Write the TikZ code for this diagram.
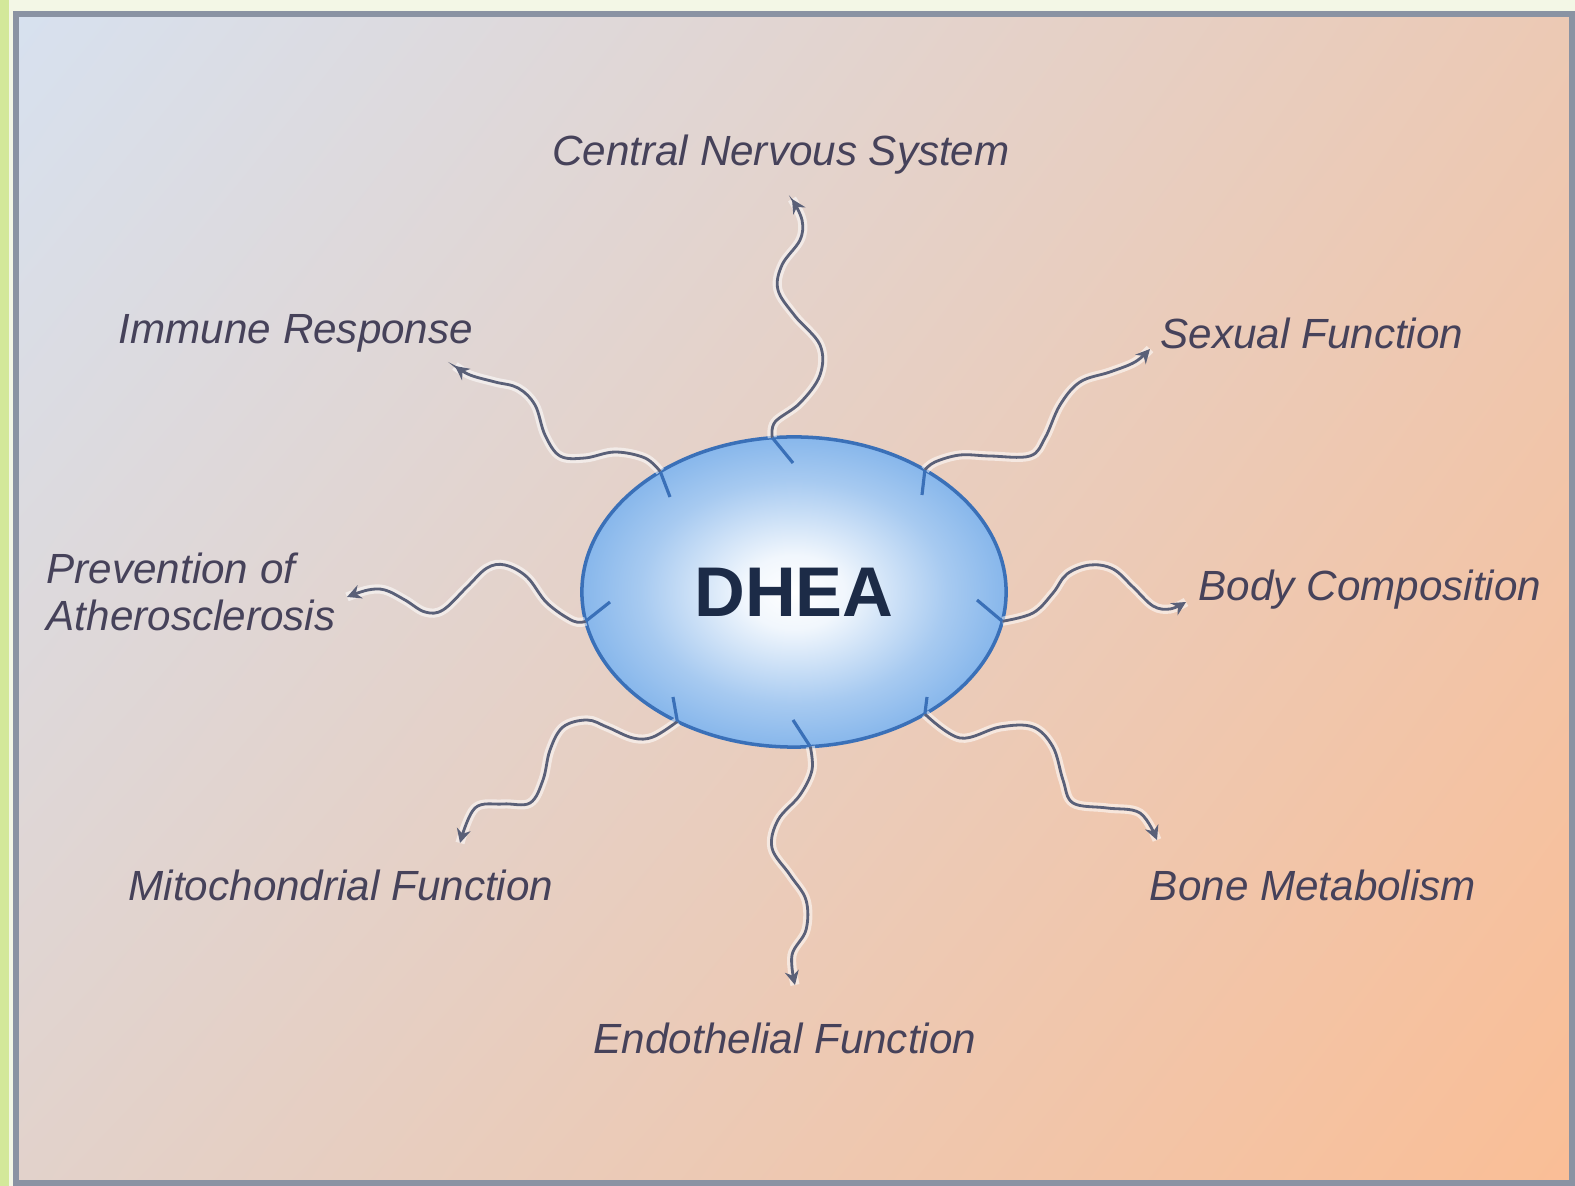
\documentclass[tikz,border=0pt]{standalone}
\usepackage{fontspec}
\setmainfont{Liberation Sans}
\usetikzlibrary{arrows.meta,shapes.geometric,shadings}
\definecolor{paper}{HTML}{F3F7E6}
\definecolor{lime}{HTML}{D3E89A}
\definecolor{framegray}{HTML}{8A93A3}
\definecolor{inkgray}{HTML}{5A6078}
\definecolor{labelink}{HTML}{46425A}
\definecolor{dheablue}{HTML}{4F95E2}
\definecolor{dheaedge}{HTML}{3A70B8}
\definecolor{dheaink}{HTML}{1C2B47}
\definecolor{bgtl}{HTML}{D7E1EF}
\definecolor{bgtr}{HTML}{ECC9B4}
\definecolor{bgbl}{HTML}{E2D2CB}
\definecolor{bgbr}{HTML}{FABE96}
\pgfdeclareradialshading{dheashade}{\pgfpoint{0bp}{0bp}}{color(0bp)=(white); color(6bp)=(white!92!dheablue); color(18bp)=(white!50!dheablue); color(32bp)=(white!14!dheablue); color(44bp)=(dheablue); color(50bp)=(dheablue!88!black)}

\begin{document}
\begin{tikzpicture}[x=0.01cm,y=-0.01cm,
  lbl/.style={font=\fontsize{12}{13.4}\selectfont\itshape, text=labelink, inner sep=0},
  wave/.style={inkgray, line width=0.8pt, -{Stealth[length=4pt,width=4pt]},
    preaction={draw=white, line width=2.6pt, opacity=0.55, arrows=-}},
  tick/.style={dheaedge, line width=0.9pt}]
  \useasboundingbox (0,0) rectangle (1575,1186);
  \fill[paper] (0,0) rectangle (1575,1186);
  \fill[lime] (0,0) rectangle (9,1186);
  \shade[upper left=bgtl, upper right=bgtr, lower left=bgbl, lower right=bgbr]
    (16,14) rectangle (1572,1183);
  \draw[framegray, line width=1.7pt] (16,14) rectangle (1572,1183);

  \node[ellipse, shade, shading=dheashade, draw=dheaedge, line width=1pt, minimum width=4.24cm,
    minimum height=3.1cm, inner sep=0, outer sep=0, font=\fontsize{20}{24}\selectfont\bfseries,
    text=dheaink] (dhea) at (794,592) {DHEA};

  \node[lbl] (cns)    at (781,155)  {Central Nervous System};
  \node[lbl] (immune) at (296,333)  {Immune Response};
  \node[lbl] (sexual) at (1312,333) {Sexual Function};
  \node[lbl, align=left, anchor=west] (athero) at (46,592) {Prevention of\\Atherosclerosis};
  \node[lbl] (body)   at (1370,590) {Body Composition};
  \node[lbl] (mito)   at (341,885)  {Mitochondrial Function};
  \node[lbl] (bone)   at (1313,885) {Bone Metabolism};
  \node[lbl] (endo)   at (785,1038) {Endothelial Function};

  \coordinate (cns-end)    at (792,199);
  \coordinate (immune-end) at (455,366);
  \coordinate (sexual-end) at (1150,349);
  \coordinate (athero-end) at (347,597);
  \coordinate (body-end)   at (1186,602);
  \coordinate (mito-end)   at (460,843);
  \coordinate (bone-end)   at (1157,840);
  \coordinate (endo-end)   at (795,985);

  \draw[wave] plot[smooth,tension=0.6] coordinates {(dhea.98) (775,422) (800,403) (820,375) (820,345) (795,316) (778,290) (782,265) (800,240) (802,220) (cns-end)};
  \draw[wave] plot[smooth,tension=0.6] coordinates {(dhea.138) (645,458) (615,452) (585,458) (560,456) (545,435) (535,405) (518,388) (495,382) (470,375) (immune-end)};
  \draw[wave] plot[smooth,tension=0.6] coordinates {(dhea.43) (935,462) (960,455) (990,456) (1030,456) (1045,438) (1060,405) (1080,382) (1110,372) (1135,362) (sexual-end)};
  \draw[wave] plot[smooth,tension=0.6] coordinates {(dhea.188) (573,621) (547,603) (527,577) (505,565) (487,568) (467,587) (443,610) (425,612) (405,600) (385,590) (368,590) (athero-end)};
  \draw[wave] plot[smooth,tension=0.6] coordinates {(dhea.352) (1033,613) (1053,593) (1067,574) (1090,565) (1113,569) (1133,587) (1153,606) (1170,609) (body-end)};
  \draw[wave] plot[smooth,tension=0.6] coordinates {(dhea.228) (653,737) (633,738) (607,727) (587,720) (563,727) (550,750) (543,780) (530,803) (503,804) (475,808) (mito-end)};
  \draw[wave] plot[smooth,tension=0.6] coordinates {(dhea.276) (812,770) (800,795) (778,820) (772,848) (790,875) (806,900) (806,930) (792,955) (endo-end)};
  \draw[wave] plot[smooth,tension=0.6] coordinates {(dhea.317) (960,738) (1000,727) (1033,727) (1053,747) (1063,780) (1073,803) (1107,808) (1140,813) (bone-end)};

  \foreach \a/\x/\y in {98/793/463, 138/670/497, 43/922/495, 188/610/602, 352/977/600, 228/673/697, 276/793/720, 317/927/697}
    \draw[tick] (dhea.\a) -- (\x,\y);
\end{tikzpicture}
\end{document}
